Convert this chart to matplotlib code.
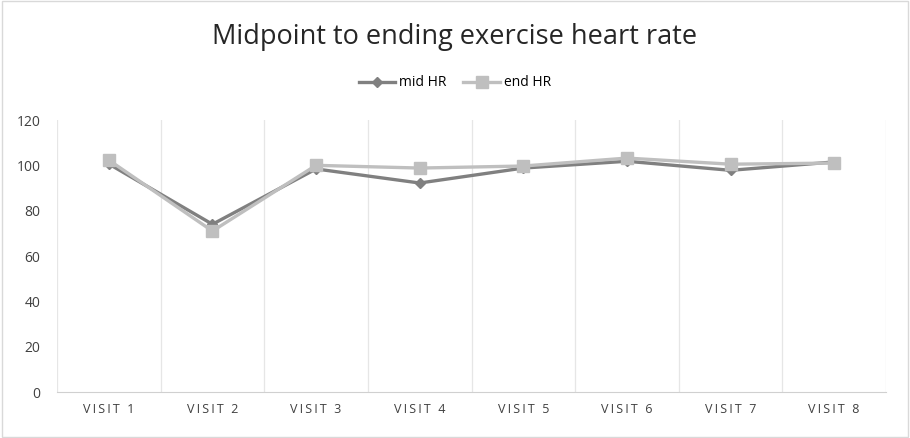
import matplotlib
matplotlib.use('Agg')
from matplotlib import pyplot as plt

plt.rcParams['font.family'] = ['Open Sans', 'DejaVu Sans']

# 数据
visits = ['VISIT 1', 'VISIT 2', 'VISIT 3', 'VISIT 4', 'VISIT 5', 'VISIT 6', 'VISIT 7', 'VISIT 8']
mid_hr = [100.6, 74, 98.4, 92.2, 98.8, 101.8, 97.8, 101.5]
end_hr = [102.3, 71, 100, 98.8, 99.7, 103.2, 100.5, 101]

fig = plt.figure(figsize=(9.1, 4.38), dpi=100)
ax = fig.add_axes([57 / 910, 46 / 438, 829 / 910, 272 / 438])

x = list(range(len(visits)))
ax.plot(x, mid_hr, color='#808080', lw=2.4, marker='D', ms=5, label='mid HR', zorder=2)
ax.plot(x, end_hr, color='#bfbfbf', lw=2.4, marker='s', ms=9, label='end HR', zorder=3)

ax.set_xlim(-0.5, len(visits) - 0.5)
ax.set_ylim(0, 120)
ax.set_yticks(range(0, 121, 20))
ax.set_xticks(x)
# 字母间距加宽
spaced = ['\u2009'.join(v) for v in visits]
ax.set_xticklabels(spaced, fontsize=9, color='#404040')
ax.tick_params(axis='y', labelsize=10, colors='#404040', length=0, pad=12)
ax.tick_params(axis='x', length=0, pad=8)

# 竖直网格线 在类别之间
for b in [i + 0.5 for i in range(-1, len(visits))]:
    ax.axvline(b, color='#e6e6e6', lw=0.9, zorder=0)

for s in ['top', 'right', 'left']:
    ax.spines[s].set_visible(False)
ax.spines['bottom'].set_color('#d0d0d0')

fig.text(0.5, 1 - 37 / 438, 'Midpoint to ending exercise heart rate',
         ha='center', va='center', fontsize=19.5, color='#262626')
fig.legend(loc='center', bbox_to_anchor=(0.5, 1 - 83 / 438), ncol=2, frameon=False,
           fontsize=10, handlelength=2.6, columnspacing=1.2, handletextpad=0.3)

# 外框
fig.patches.append(plt.Rectangle((0.002, 0.003), 0.996, 0.994, transform=fig.transFigure,
                                 fill=False, edgecolor='#d9d9d9', lw=1))

plt.savefig('out.png')
